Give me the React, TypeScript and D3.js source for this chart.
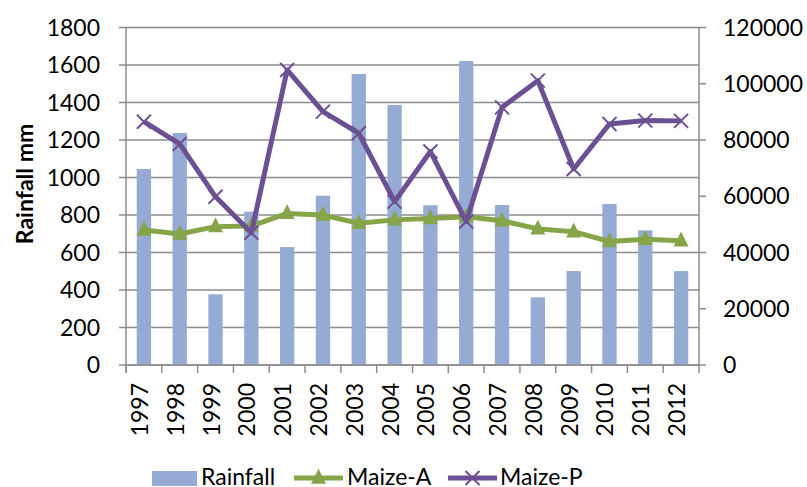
import React from "react";
import * as d3 from "d3";

const years = ["1997","1998","1999","2000","2001","2002","2003","2004","2005","2006","2007","2008","2009","2010","2011","2012"];
const rainfall = [1045,1237,377,818,629,903,1552,1387,852,1621,853,361,501,859,718,501];
const maizeA = [48000,46600,49200,49400,53900,53300,50400,51600,52100,52700,51300,48400,47400,43900,44700,44200];
const maizeP = [86500,78600,59800,47000,104900,90100,82400,58100,75900,51000,91600,101100,69700,85700,86900,86800];
const leftTicks = [0,200,400,600,800,1000,1200,1400,1600,1800];
const rightTicks = [0,20000,40000,60000,80000,100000,120000];
const legendLabels = ["Rainfall","Maize-A","Maize-P"];

const W = 807, H = 487;
const X0 = 126, X1 = 699, Y0 = 365, Y1 = 27.5;
const FONT = "Lato, 'Open Sans', sans-serif";
const FS = 23;
const BAR = "#95abd3", GREEN = "#86a448", PURPLE = "#6b5193", GRID = "#8c8c8c";

export default function App() {
  const x = d3.scaleBand<string>().domain(years).range([X0, X1]).paddingInner(0).paddingOuter(0);
  const yL = d3.scaleLinear().domain([0, 1800]).range([Y0, Y1]);
  const yR = d3.scaleLinear().domain([0, 120000]).range([Y0, Y1]);
  const bw = x.bandwidth() * 0.4;
  const cx = (y: string) => (x(y) as number) + x.bandwidth() / 2;
  const line = d3.line<number>().x((_, i) => cx(years[i])).y((d) => yR(d));

  const tri = (px: number, py: number, s = 15) =>
    `M${px},${py - s * 0.62}L${px + s / 2},${py + s * 0.38}L${px - s / 2},${py + s * 0.38}Z`;
  const cross = (px: number, py: number, s = 7) =>
    `M${px - s},${py - s}L${px + s},${py + s}M${px - s},${py + s}L${px + s},${py - s}`;

  return (
    <svg width={W} height={H} style={{ position: "absolute", left: 0, top: 0, background: "#fff" }} fontFamily={FONT}>
      {leftTicks.map((t) => (
        <line key={"g" + t} x1={X0 - 7} x2={X1} y1={yL(t)} y2={yL(t)} stroke={GRID} strokeWidth={1.5} />
      ))}
      {rightTicks.map((t) => (
        <line key={"r" + t} x1={X1} x2={X1 + 7} y1={yR(t)} y2={yR(t)} stroke={GRID} strokeWidth={1.5} />
      ))}
      {rainfall.map((v, i) => (
        <rect key={"b" + i} x={cx(years[i]) - bw / 2} width={bw} y={yL(v)} height={Y0 - yL(v)} fill={BAR} />
      ))}
      <line x1={X0} x2={X0} y1={Y1} y2={Y0 + 8} stroke={GRID} strokeWidth={1.5} />
      <line x1={X1} x2={X1} y1={Y1} y2={Y0 + 8} stroke={GRID} strokeWidth={1.5} />
      <line x1={X0} x2={X1} y1={Y0} y2={Y0} stroke={GRID} strokeWidth={1.5} />
      {years.map((y, i) => (
        <line key={"xt" + i} x1={x(y) as number} x2={x(y) as number} y1={Y0} y2={Y0 + 8} stroke={GRID} strokeWidth={1.5} />
      ))}
      <path d={line(maizeA) as string} fill="none" stroke={GREEN} strokeWidth={5} strokeLinejoin="round" />
      {maizeA.map((v, i) => (
        <path key={"ta" + i} d={tri(cx(years[i]), yR(v))} fill={GREEN} />
      ))}
      <path d={line(maizeP) as string} fill="none" stroke={PURPLE} strokeWidth={5} strokeLinejoin="round" />
      {maizeP.map((v, i) => (
        <path key={"xp" + i} d={cross(cx(years[i]), yR(v))} stroke={PURPLE} strokeWidth={2} fill="none" />
      ))}
      {leftTicks.map((t) => (
        <text key={"lt" + t} x={X0 - 26} y={yL(t)} dy="0.35em" textAnchor="end" fontSize={FS} fill="#000">{t}</text>
      ))}
      {rightTicks.map((t) => (
        <text key={"rl" + t} x={X1 + 24} y={yR(t)} dy="0.35em" textAnchor="start" fontSize={FS} fill="#000">{t}</text>
      ))}
      {years.map((y) => (
        <text key={"xl" + y} transform={`translate(${cx(y) + 4},${Y0 + 18}) rotate(-90)`} textAnchor="end" fontSize={FS} fill="#000">{y}</text>
      ))}
      <text transform={`translate(33,${(Y0 + 1) / 2 + 1}) rotate(-90)`} textAnchor="middle" fontSize={FS} fontWeight="bold" fill="#000">Rainfall mm</text>
      <rect x={152} y={471} width={45} height={15} fill={BAR} />
      <text x={201} y={485} fontSize={FS} fill="#000">{legendLabels[0]}</text>
      <line x1={294} x2={343} y1={478} y2={478} stroke={GREEN} strokeWidth={5} />
      <path d={tri(318.5, 478)} fill={GREEN} />
      <text x={347} y={485} fontSize={FS} fill="#000">{legendLabels[1]}</text>
      <line x1={448} x2={497} y1={478} y2={478} stroke={PURPLE} strokeWidth={5} />
      <path d={cross(472.5, 478)} stroke={PURPLE} strokeWidth={2} fill="none" />
      <text x={500} y={485} fontSize={FS} fill="#000">{legendLabels[2]}</text>
    </svg>
  );
}
